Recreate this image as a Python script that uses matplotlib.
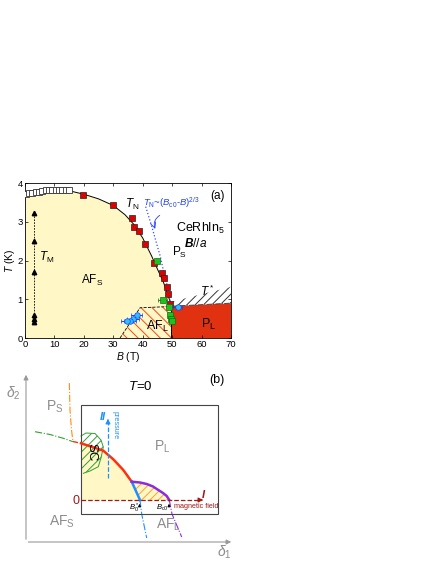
import numpy as np
import matplotlib
matplotlib.use('Agg')
import matplotlib.pyplot as plt
from matplotlib.patches import Polygon, Rectangle

plt.rcParams['font.family'] = ['Liberation Sans', 'DejaVu Sans']
plt.rcParams['mathtext.fontset'] = 'custom'
plt.rcParams['mathtext.rm'] = 'Liberation Sans'
plt.rcParams['mathtext.it'] = 'Liberation Sans:italic'
plt.rcParams['mathtext.bf'] = 'Liberation Sans:bold:italic'
plt.rcParams['hatch.linewidth'] = 0.7

# ==========================================
# (a) data
# ==========================================
open_B = [0.3, 1.5, 2.5, 3.6, 4.8, 5.9, 7.0, 8.2, 9.3, 10.4, 11.5, 12.7, 13.8, 14.9]
open_T = [3.72, 3.73, 3.75, 3.77, 3.78, 3.80, 3.82, 3.83, 3.83, 3.83, 3.82, 3.82, 3.81, 3.81]

red_B = [19.6, 30.0, 36.2, 37.0, 38.6, 40.8, 43.7, 46.7, 47.1, 48.1, 48.5, 49.4]
red_T = [3.70, 3.42, 3.09, 2.87, 2.77, 2.43, 1.94, 1.69, 1.55, 1.31, 1.13, 0.89]

green_B = [44.8, 46.8, 48.9, 49.3, 49.5, 49.8]
green_T = [2.00, 0.99, 0.80, 0.60, 0.50, 0.45]
green_err = [0.3, 1.5, 0.4, 0.3, 0.3, 0.3]

cyan_B = [51.9, 37.9, 36.8, 35.7, 34.6]
cyan_T = [0.79, 0.59, 0.49, 0.43, 0.44]
cyan_err = [1.5, 2.0, 2.0, 2.0, 2.0]

tm_B = [2.9, 2.9, 2.9, 2.9, 2.9, 2.9]
tm_T = [3.22, 2.51, 1.71, 0.59, 0.49, 0.42]

# T_N phase boundary
bound_B = [0, 2, 5, 8, 10, 12, 15, 20, 25, 30, 34, 37, 40, 43, 45, 47, 48.5, 49.7]
bound_T = [3.70, 3.75, 3.80, 3.83, 3.84, 3.83, 3.80, 3.71, 3.59, 3.42, 3.18, 2.93, 2.58, 2.12, 1.78, 1.45, 1.12, 0.86]

# blue T_N ~ (Bc0-B)^(2/3) fit
fit_B = [41.0, 43.0, 44.7, 46.0, 47.0, 48.0, 48.8, 49.3]
fit_T = [3.39, 2.90, 2.44, 2.10, 1.75, 1.45, 1.20, 0.95]

# AF_L, P_L and T* regions
afl_B = [32.3, 39.1, 48.7, 49.7, 49.7]
afl_T = [0.0, 0.78, 0.81, 0.85, 0.0]
pl_B = [49.7, 49.7, 70, 70]
pl_T = [0.0, 0.82, 0.90, 0.0]
ts_B = [49.0, 70, 70, 49.7]
ts_T = [0.92, 1.32, 0.90, 0.82]

# ==========================================
# (b) schematic outlines (figure pixel units)
# ==========================================
box_x = [81, 218]
box_y = [405, 514]
zero_y = 500
red_x = [81.0, 93.3, 103.3, 113.3, 123.3, 131.7]
red_y = [443.3, 447.3, 450.7, 459.3, 470.0, 481.7]
blue_x = [131.7, 140.0]
blue_y = [481.7, 500.0]
blue_ext_x = [140.0, 141.7, 146.7]
blue_ext_y = [500.0, 514.0, 538.0]
purp_x = [131.7, 140.0, 146.7, 153.0, 158.3, 163.0, 166.7, 169.3]
purp_y = [481.7, 482.5, 484.0, 486.5, 490.0, 493.0, 496.0, 500.0]
purp_ext_x = [169.3, 172.0, 181.7]
purp_ext_y = [500.0, 514.0, 537.0]
orange_x = [69.3, 70.0, 71.5, 73.0]
orange_y = [383.0, 410.0, 430.0, 441.7]
green_x = [35.0, 50.0, 63.3, 73.0]
green_y = [431.7, 434.5, 438.3, 441.7]
sc_x = [81, 86, 95, 101, 103.3, 101, 98.3, 90, 83.3, 81]
sc_y = [436, 433, 433.5, 440, 447, 458, 466.7, 471, 473.3, 474]

yellow = '#FFF7C6'
gray_txt = '#8C8C8C'
dred = '#A01818'

fig = plt.figure(figsize=(4.36, 5.64), dpi=100)

# ------------------------------------------
# panel (a)
# ------------------------------------------
ax = fig.add_axes([25/436, (564-338)/564, 206/436, 155/564])
ax.set_xlim(0, 70)
ax.set_ylim(0, 4)

ax.fill_between(bound_B, bound_T, 0, color=yellow, lw=0, zorder=0)
ax.add_patch(Polygon(np.column_stack([afl_B, afl_T]), closed=True, facecolor=yellow,
                     edgecolor='#F04A20', hatch='\\\\\\', lw=0, zorder=1))
ax.plot(afl_B[:3], afl_T[:3], ls='--', color='k', lw=0.6, zorder=2)
ax.add_patch(Polygon(np.column_stack([pl_B, pl_T]), closed=True, facecolor='#E03210',
                     edgecolor='none', lw=0, zorder=1))
ax.add_patch(Polygon(np.column_stack([ts_B, ts_T]), closed=True, facecolor='white',
                     edgecolor='#333333', hatch='////', lw=0, zorder=1))
ax.plot(pl_B[1:3], pl_T[1:3], ls='-.', color='#333333', lw=0.6, zorder=2)
ax.plot(bound_B, bound_T, color='k', lw=0.7, zorder=3)
ax.plot([49.7, 49.7], [0, 0.86], color='k', lw=0.7, zorder=3)
ax.plot(fit_B, fit_T, ls=':', color='#3050FF', lw=0.9, zorder=3)

ax.plot(tm_B, tm_T, ls='--', color='k', lw=0.6, dashes=(2, 1.5), zorder=3)
ax.plot(tm_B, tm_T, ls='none', marker='^', color='k', ms=3.2, zorder=4)

ax.plot(open_B, open_T, ls='none', marker='s', ms=4, mfc='white', mec='#333333', mew=0.6, zorder=4)
ax.plot(red_B, red_T, ls='none', marker='s', ms=4, mfc='#E00000', mec='#222222', mew=0.5, zorder=4)
ax.errorbar(green_B, green_T, xerr=green_err, fmt='s', ms=4, mfc='#20C020', mec='#107010',
            mew=0.5, ecolor='#107010', elinewidth=0.6, capsize=1.2, zorder=5)
ax.errorbar(cyan_B, cyan_T, xerr=cyan_err, fmt='o', ms=4, mfc='#30C0FF', mec='#1040FF',
            mew=0.5, ecolor='#1040FF', elinewidth=0.7, capsize=1.2, zorder=5)

ax.text(34.0, 3.35, r'$T_{\rm N}$', fontsize=8.5, zorder=6)
ax.text(4.8, 2.0, r'$T_{\rm M}$', fontsize=8.5, zorder=6)
ax.text(19.0, 1.39, r'AF$_{\rm S}$', fontsize=8.5, zorder=6)
ax.text(49.8, 2.12, r'P$_{\rm S}$', fontsize=8.5, zorder=6)
ax.text(51.3, 2.74, r'CeRhIn$_5$', fontsize=9, zorder=6)
ax.text(54.0, 2.35, r'$\mathbf{B}$//$a$', fontsize=8.5, zorder=6)
ax.text(59.5, 1.08, r'$T^*$', fontsize=8.5, zorder=6)
ax.text(59.8, 0.25, r'P$_{\rm L}$', fontsize=9, zorder=6)
ax.text(41.0, 0.2, r'AF$_{\rm L}$', fontsize=9, zorder=6)
ax.text(62.8, 3.6, '(a)', fontsize=8.5, zorder=6)
ax.text(40.2, 3.42, r'$T_{\rm N}$~($B_{\rm c0}$-$B$)$^{2/3}$', fontsize=6.8, color='#2040FF', zorder=6)
ax.annotate('', xy=(44.6, 2.75), xytext=(46.6, 3.2),
            arrowprops=dict(arrowstyle='->', color='#2040FF', lw=0.6,
                            connectionstyle='arc3,rad=0.5'), zorder=6)

ax.set_xticks(range(0, 71, 10))
ax.set_yticks(range(0, 5))
ax.tick_params(direction='in', top=True, right=True, length=2.5, width=0.5, labelsize=6.8, pad=1.5)
for s in ax.spines.values():
    s.set_linewidth(0.6)
ax.set_xlabel(r'$B$ (T)', fontsize=7.5, labelpad=0.5)
ax.set_ylabel(r'$T$ (K)', fontsize=7.5, labelpad=0.5)

# ------------------------------------------
# panel (b)
# ------------------------------------------
bx = fig.add_axes([0, 0, 1, 204/564])
bx.set_xlim(0, 436)
bx.set_ylim(564, 360)
bx.axis('off')

# gray delta axes
bx.annotate('', xy=(26, 372), xytext=(26, 542),
            arrowprops=dict(arrowstyle='-|>', color='#999999', lw=0.8, mutation_scale=7))
bx.annotate('', xy=(234, 542), xytext=(25.6, 542),
            arrowprops=dict(arrowstyle='-|>', color='#999999', lw=0.8, mutation_scale=7))
bx.text(13, 393, r'$\delta_2$', fontsize=10, color=gray_txt, ha='center', va='center')
bx.text(224, 552, r'$\delta_1$', fontsize=10, color=gray_txt, ha='center', va='center')

# yellow AF_S part and hatched AF_L part
yel = np.column_stack([red_x + blue_x[1:] + [81], red_y + blue_y[1:] + [zero_y]])
bx.add_patch(Polygon(yel, closed=True, facecolor=yellow, edgecolor='none', zorder=1))
afl = np.column_stack([purp_x + [blue_x[1]], purp_y + [blue_y[1]]])
bx.add_patch(Polygon(afl, closed=True, facecolor=yellow, edgecolor='#FFA030',
                     hatch='////', lw=0, zorder=1))
bx.add_patch(Polygon(np.column_stack([sc_x, sc_y]), closed=True, facecolor='none',
                     edgecolor='#30A030', hatch='////', lw=0, zorder=2))
bx.plot(sc_x[:-1], sc_y[:-1], color='#30A030', lw=0.7, zorder=3)

bx.add_patch(Rectangle((box_x[0], box_y[0]), box_x[1]-box_x[0], box_y[1]-box_y[0],
                       facecolor='none', edgecolor='#444444', lw=0.8, zorder=4))

bx.plot(orange_x, orange_y, ls='-.', color='#FF8C10', lw=0.8, zorder=3)
bx.plot(green_x, green_y, ls='-.', color='#30A030', lw=0.8, zorder=3)
bx.plot([73, 81], [441.5, 443.3], ls='--', color='#FF3010', lw=1.0, zorder=3)
bx.plot(red_x, red_y, color='#FF3010', lw=1.8, zorder=5)
bx.plot(blue_x, blue_y, color='#1E90FF', lw=1.8, zorder=5)
bx.plot(purp_x, purp_y, color='#8A2BE2', lw=1.8, zorder=5)
bx.plot(blue_ext_x, blue_ext_y, ls='-.', color='#1E90FF', lw=0.8, zorder=3)
bx.plot(purp_ext_x, purp_ext_y, ls='-.', color='#8A2BE2', lw=0.8, zorder=3)

# magnetic field (I) and pressure (II) axes
bx.plot([81, 200], [zero_y, zero_y], ls='--', color=dred, lw=0.9, zorder=6)
bx.annotate('', xy=(206, zero_y), xytext=(198, zero_y),
            arrowprops=dict(arrowstyle='-|>', color=dred, lw=0.8, mutation_scale=7), zorder=6)
bx.plot([108, 108], [478, 422], ls='--', color='#1E90FF', lw=0.9, zorder=6)
bx.annotate('', xy=(108, 416), xytext=(108, 424),
            arrowprops=dict(arrowstyle='-|>', color='#1E90FF', lw=0.8, mutation_scale=7), zorder=6)
bx.annotate('', xy=(139.5, 501), xytext=(139.5, 509),
            arrowprops=dict(arrowstyle='-|>', color='k', lw=0.6, mutation_scale=4), zorder=6)
bx.annotate('', xy=(169, 501), xytext=(169, 509),
            arrowprops=dict(arrowstyle='-|>', color='k', lw=0.6, mutation_scale=4), zorder=6)

bx.text(76, 501, '0', fontsize=9, color=dred, ha='center', va='center')
bx.text(204, 494, r'$\mathbf{I}$', fontsize=8, color=dred, ha='center', va='center')
bx.text(174, 506, 'magnetic field', fontsize=5.2, color=dred, ha='left', va='center')
bx.text(134, 508, r'$B^*_{\rm 0}$', fontsize=5.5, ha='center', va='center')
bx.text(162, 508, r'$B_{\rm c0}$', fontsize=5.5, ha='center', va='center')
bx.text(103, 416, r'$\mathbf{II}$', fontsize=8, color='#1E90FF', ha='center', va='center')
bx.text(115.5, 425, 'pressure', fontsize=5.2, color='#1E90FF', rotation=-90,
        ha='center', va='center')
bx.text(91, 452, 'SC', fontsize=9.5, rotation=-90, ha='center', va='center', zorder=7)
bx.text(162, 447, r'P$_{\rm L}$', fontsize=10, color=gray_txt, ha='center', va='center')
bx.text(55, 407, r'P$_{\rm S}$', fontsize=10, color=gray_txt, ha='center', va='center')
bx.text(62, 522, r'AF$_{\rm S}$', fontsize=10, color=gray_txt, ha='center', va='center')
bx.text(168, 525, r'AF$_{\rm L}$', fontsize=10, color=gray_txt, ha='center', va='center')
bx.text(140, 387, r'$T$=0', fontsize=9.5, ha='center', va='center')
bx.text(217, 380, '(b)', fontsize=9, ha='center', va='center')

fig.savefig('out.png', dpi=100)
